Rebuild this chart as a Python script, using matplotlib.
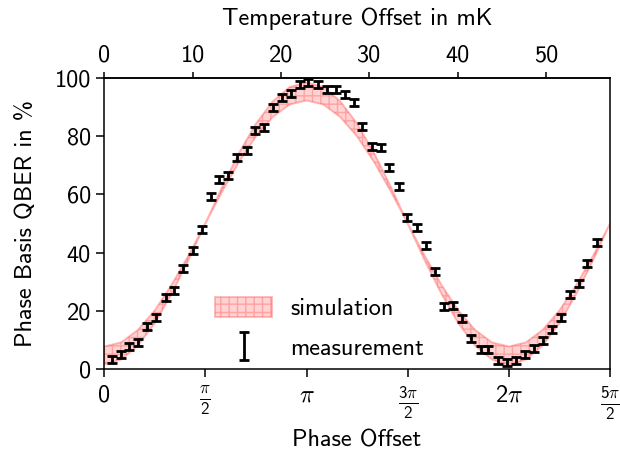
import numpy as np
import matplotlib
matplotlib.use("Agg")
import matplotlib.pyplot as plt
from matplotlib.legend_handler import HandlerErrorbar

plt.rcParams["font.family"] = "cmss10"
plt.rcParams["mathtext.fontset"] = "custom"
plt.rcParams["mathtext.rm"] = "cmss10"
plt.rcParams["mathtext.it"] = "cmss10"
plt.rcParams["axes.unicode_minus"] = False

# measured phase offsets (rad), QBER (%) and error
meas_phase = [0.124, 0.264, 0.388, 0.528, 0.667, 0.807, 0.962, 1.086, 1.226, 1.381,
              1.521, 1.661, 1.785, 1.925, 2.064, 2.220, 2.344, 2.483, 2.623, 2.763,
              2.903, 3.043, 3.167, 3.322, 3.461, 3.601, 3.741, 3.881, 4.005, 4.160,
              4.300, 4.424, 4.579, 4.703, 4.858, 4.998, 5.138, 5.277, 5.417, 5.557,
              5.696, 5.852, 5.960, 6.115, 6.255, 6.395, 6.534, 6.674, 6.814, 6.953,
              7.093, 7.233, 7.373, 7.497, 7.652]
meas_qber = [3.1, 4.8, 7.6, 9.0, 14.5, 17.6, 24.5, 26.9, 34.5, 40.7,
             47.9, 59.3, 65.2, 66.6, 72.8, 75.2, 82.1, 83.1, 90.0, 93.4,
             94.8, 97.9, 98.3, 97.9, 96.2, 96.2, 94.5, 91.7, 83.4, 76.6,
             76.2, 69.3, 62.8, 52.1, 48.6, 42.4, 33.4, 21.4, 21.7, 17.2,
             10.3, 6.6, 6.6, 2.8, 2.1, 2.8, 4.8, 6.9, 9.7, 13.4,
             17.6, 25.5, 29.3, 36.2, 43.4]
meas_err = [1.2] * len(meas_qber)

# simulation band, sampled every pi/12
sim_phase = [k * np.pi / 12 for k in range(31)]
sim_upper = [7.7, 9.1, 13.4, 20.1, 28.9, 39.0, 50.0, 62.6, 74.3, 84.3, 92.0, 96.9, 98.5,
             96.9, 92.0, 84.3, 74.3, 62.6, 50.0, 39.0, 28.9, 20.1, 13.4, 9.1, 7.7,
             9.1, 13.4, 20.1, 28.9, 39.0, 50.0]
sim_lower = [1.5, 3.2, 8.0, 15.7, 25.8, 37.4, 50.0, 61.0, 71.2, 79.9, 86.6, 90.9, 92.3,
             90.9, 86.6, 79.9, 71.2, 61.0, 50.0, 37.4, 25.8, 15.7, 8.0, 3.2, 1.2,
             3.2, 8.0, 15.7, 25.8, 37.4, 50.0]

phase_ticks = [0, np.pi / 2, np.pi, 3 * np.pi / 2, 2 * np.pi, 5 * np.pi / 2]
phase_labels = ["0", r"$\frac{\pi}{2}$", r"$\pi$", r"$\frac{3\pi}{2}$", r"$2\pi$", r"$\frac{5\pi}{2}$"]
temp_ticks = [0, 10, 20, 30, 40, 50]
MK_PER_RAD = 7.288

fs = 17.5

fig = plt.figure(figsize=(6.2, 4.51), dpi=100)
ax = fig.add_axes([0.168, 0.182, 0.816, 0.645])

ax.fill_between(sim_phase, sim_lower, sim_upper, facecolor=(1.0, 0.55, 0.55, 0.38),
                edgecolor=(1.0, 0.35, 0.35, 0.4), hatch="++", linewidth=1.4,
                label="simulation", zorder=1)
ax.errorbar(meas_phase, meas_qber, yerr=meas_err, fmt="none", ecolor="black",
            elinewidth=2.0, capsize=3.3, capthick=2.0, label="measurement", zorder=3)

ax.set_xlim(0, 5 * np.pi / 2)
ax.set_ylim(0, 100)
ax.set_xticks(phase_ticks)
ax.set_xticklabels(phase_labels)
ax.set_yticks([0, 20, 40, 60, 80, 100])
ax.tick_params(axis="both", labelsize=fs, direction="out", length=6, width=1.1,
               top=False, right=False)
ax.tick_params(axis="x", pad=5.5)
for sp in ax.spines.values():
    sp.set_linewidth(1.1)

ax.set_xlabel("Phase Offset", fontsize=fs, labelpad=5.5)
ax.set_ylabel("Phase Basis QBER in %", fontsize=fs, labelpad=13)

top = ax.secondary_xaxis("top", functions=(lambda r: r * MK_PER_RAD, lambda t: t / MK_PER_RAD))
top.set_xticks(temp_ticks)
top.tick_params(labelsize=fs, direction="out", length=4.5, width=1.1, pad=3.5)
top.spines["top"].set_linewidth(1.1)
top.set_xlabel("Temperature Offset in mK", fontsize=fs, labelpad=14)

ax.legend(loc="upper left", bbox_to_anchor=(0.219, 0.248), frameon=False, fontsize=fs,
          handlelength=2.35, handleheight=0.9, handletextpad=0.75, labelspacing=0.67,
          borderaxespad=0, borderpad=0,
          handler_map={type(ax.containers[0]): HandlerErrorbar(yerr_size=0.58)})

fig.savefig("out.png", dpi=100)
